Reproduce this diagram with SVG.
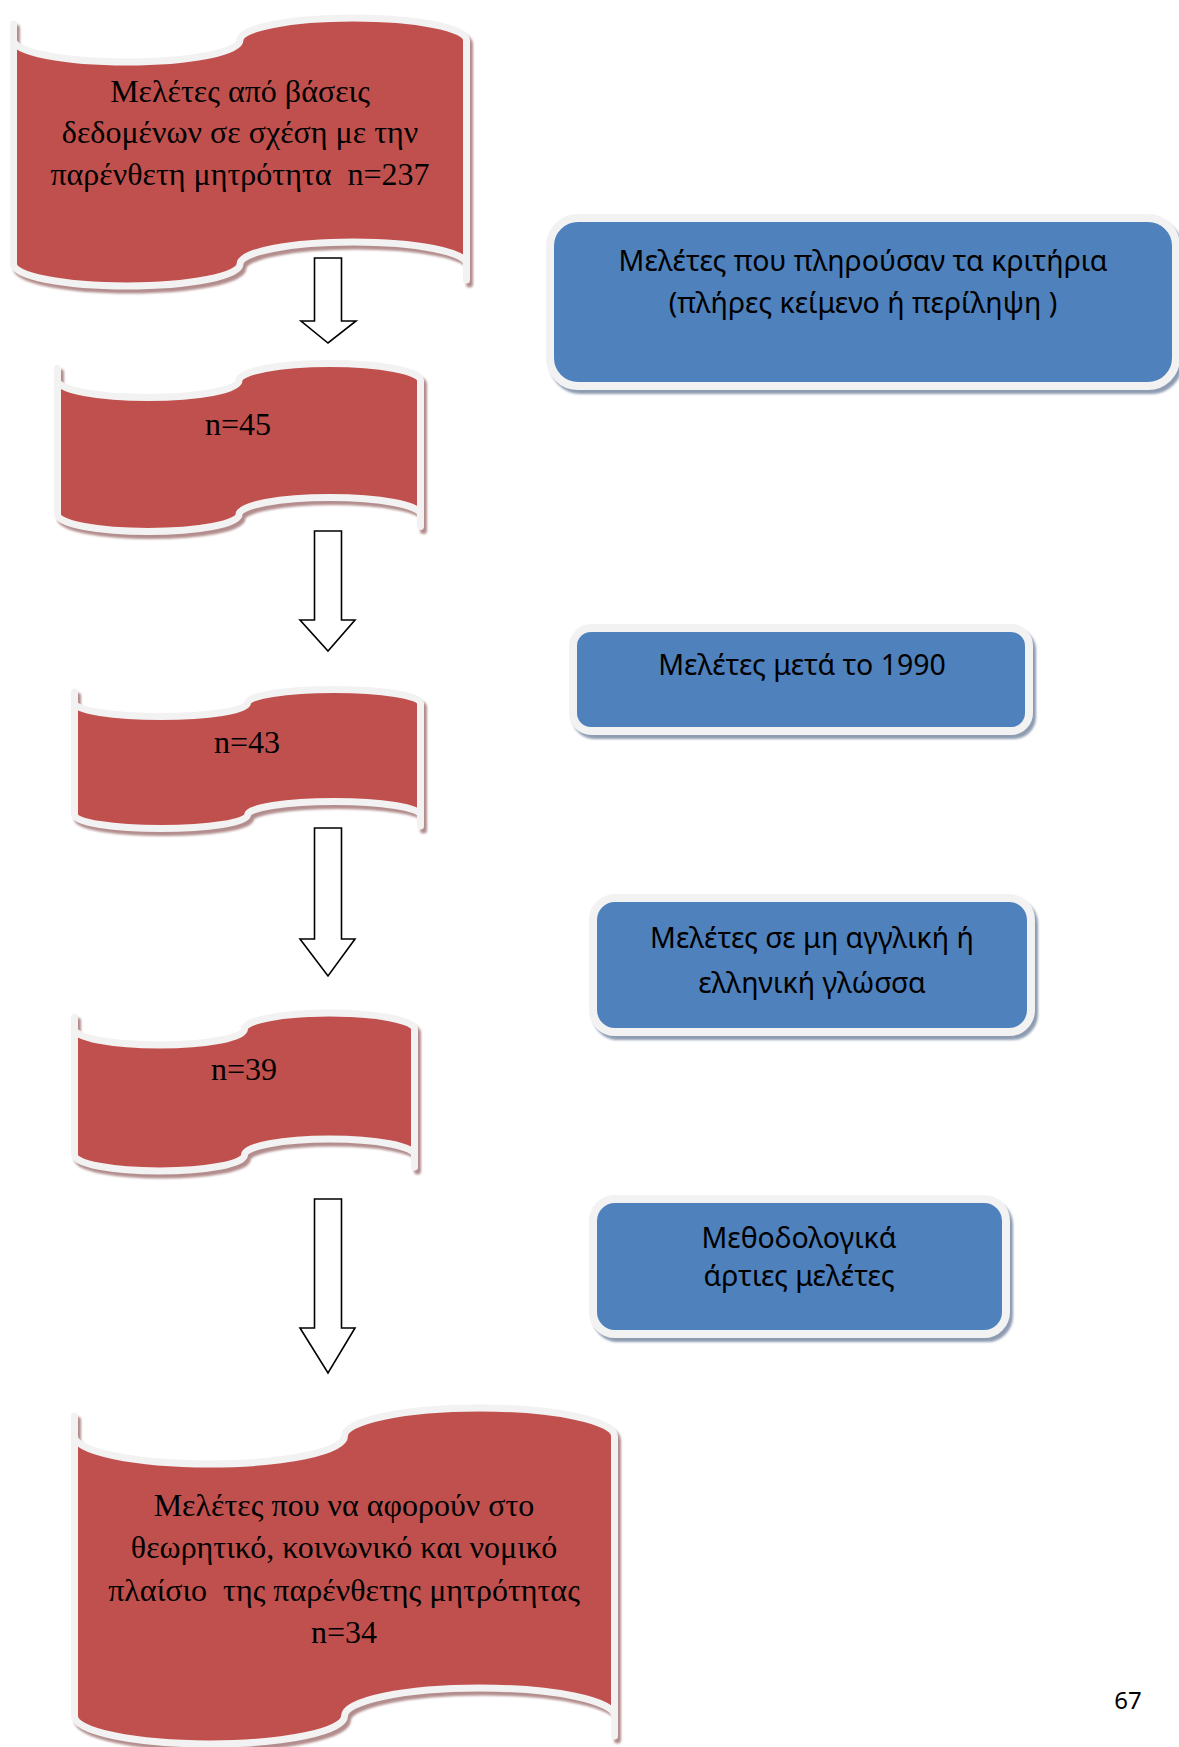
<svg xmlns="http://www.w3.org/2000/svg" width="1179" height="1747" viewBox="0 0 1179 1747">
<style>
.wave{fill:#C0504D;stroke:#F2F2F2;stroke-width:7;stroke-linejoin:round}
.wsh{fill:#B38D8D;stroke:#B38D8D;stroke-width:7;stroke-linejoin:round;filter:url(#blur)}
.box{fill:#4F81BD;stroke:#F2F2F2;stroke-width:8}
.bsh{fill:#8E9CB2;stroke:#8E9CB2;stroke-width:8;filter:url(#blur)}
.tr{font-family:"Liberation Serif","Times New Roman",serif;font-size:32px;fill:#000;text-anchor:middle;white-space:pre}
.ts{font-family:"Noto Sans","Open Sans",sans-serif;font-size:28.5px;fill:#000;text-anchor:middle;white-space:pre}
.arrow{fill:#FFFFFF;stroke:#000;stroke-width:1.6;stroke-linejoin:miter}
</style>
<defs>
<filter id="blur" x="-5%" y="-5%" width="110%" height="110%"><feGaussianBlur stdDeviation="1.2"/></filter>
<path id="w1" d="M13.5,24 L13.5,40 A113.25,22 0 0 0 240,40 A113.25,22 0 0 1 466.5,40 L466.5,280 L466.5,264 A113.25,22 0 0 0 240,264 A113.25,22 0 0 1 13.5,264 Z"/>
<path id="w2" d="M57.5,368.5 L57.5,380.5 A90.75,17 0 0 0 239,380.5 A90.75,17 0 0 1 420.5,380.5 L420.5,526.5 L420.5,514.5 A90.75,17 0 0 0 239,514.5 A90.75,17 0 0 1 57.5,514.5 Z"/>
<path id="w3" d="M74.5,692 L74.5,703 A86.5,13.5 0 0 0 247.5,703 A86.5,13.5 0 0 1 420.5,703 L420.5,826 L420.5,815 A86.5,13.5 0 0 0 247.5,815 A86.5,13.5 0 0 1 74.5,815 Z"/>
<path id="w4" d="M74.5,1017 L74.5,1029 A85,16 0 0 0 244.5,1029 A85,16 0 0 1 414.5,1029 L414.5,1167 L414.5,1155 A85,16 0 0 0 244.5,1155 A85,16 0 0 1 74.5,1155 Z"/>
<path id="w5" d="M74.5,1416 L74.5,1436 A135,28 0 0 0 344.5,1436 A135,28 0 0 1 614.5,1436 L614.5,1736 L614.5,1716 A135,28 0 0 0 344.5,1716 A135,28 0 0 1 74.5,1716 Z"/>
</defs>
<rect width="1179" height="1747" fill="#FFFFFF"/>

<g id="node-wave1">
<use href="#w1" class="wsh" transform="translate(3,4)"/>
<use href="#w1" class="wave"/>
<text class="tr" x="240" y="102">Μελέτες από βάσεις</text>
<text class="tr" x="240" y="143">δεδομένων σε σχέση με την</text>
<text class="tr" x="240" y="185">παρένθετη μητρότητα  n=237</text>
</g>

<g id="node-wave2">
<use href="#w2" class="wsh" transform="translate(3,4)"/>
<use href="#w2" class="wave"/>
<text class="tr" x="238" y="435">n=45</text>
</g>

<g id="node-wave3">
<use href="#w3" class="wsh" transform="translate(3,4)"/>
<use href="#w3" class="wave"/>
<text class="tr" x="247" y="753">n=43</text>
</g>

<g id="node-wave4">
<use href="#w4" class="wsh" transform="translate(3,4)"/>
<use href="#w4" class="wave"/>
<text class="tr" x="244" y="1080">n=39</text>
</g>

<g id="node-wave5">
<use href="#w5" class="wsh" transform="translate(3,4)"/>
<use href="#w5" class="wave"/>
<text class="tr" x="344" y="1516">Μελέτες που να αφορούν στο</text>
<text class="tr" x="344" y="1558">θεωρητικό, κοινωνικό και νομικό</text>
<text class="tr" x="344" y="1601">πλαίσιο  της παρένθετης μητρότητας</text>
<text class="tr" x="344" y="1643">n=34</text>
</g>

<g id="node-box1">
<rect class="bsh" x="553" y="222" width="626" height="168" rx="28"/>
<rect class="box" x="550" y="218" width="626" height="168" rx="28"/>
<text class="ts" x="863" y="271">Μελέτες που πληρούσαν τα κριτήρια</text>
<text class="ts" x="863" y="313">(πλήρες κείμενο ή περίληψη )</text>
</g>

<g id="node-box2">
<rect class="bsh" x="576" y="632" width="456" height="103" rx="18"/>
<rect class="box" x="573" y="628" width="456" height="103" rx="18"/>
<text class="ts" x="802" y="675">Μελέτες μετά το 1990</text>
</g>

<g id="node-box3">
<rect class="bsh" x="596" y="902" width="438" height="134" rx="22"/>
<rect class="box" x="593" y="898" width="438" height="134" rx="22"/>
<text class="ts" x="812" y="948">Μελέτες σε μη αγγλική ή</text>
<text class="ts" x="812" y="993">ελληνική γλώσσα</text>
</g>

<g id="node-box4">
<rect class="bsh" x="596" y="1203" width="413" height="135" rx="22"/>
<rect class="box" x="593" y="1199" width="413" height="135" rx="22"/>
<text class="ts" x="799" y="1248">Μεθοδολογικά</text>
<text class="ts" x="799" y="1286">άρτιες μελέτες</text>
</g>

<g id="connectors">
<path class="arrow" d="M314.5,258 H341.5 V321 H356 L328,343 L301,321 H314.5 Z"/>
<path class="arrow" d="M314.5,531 H341.5 V620 H355 L328,651 L300,620 H314.5 Z"/>
<path class="arrow" d="M314.5,828 H341.5 V939 H355 L328,976 L300,939 H314.5 Z"/>
<path class="arrow" d="M314.5,1199 H341.5 V1328 H355 L328,1373 L300,1328 H314.5 Z"/>
</g>

<text class="ts" x="1128" y="1709" style="font-size:24px">67</text>
</svg>
